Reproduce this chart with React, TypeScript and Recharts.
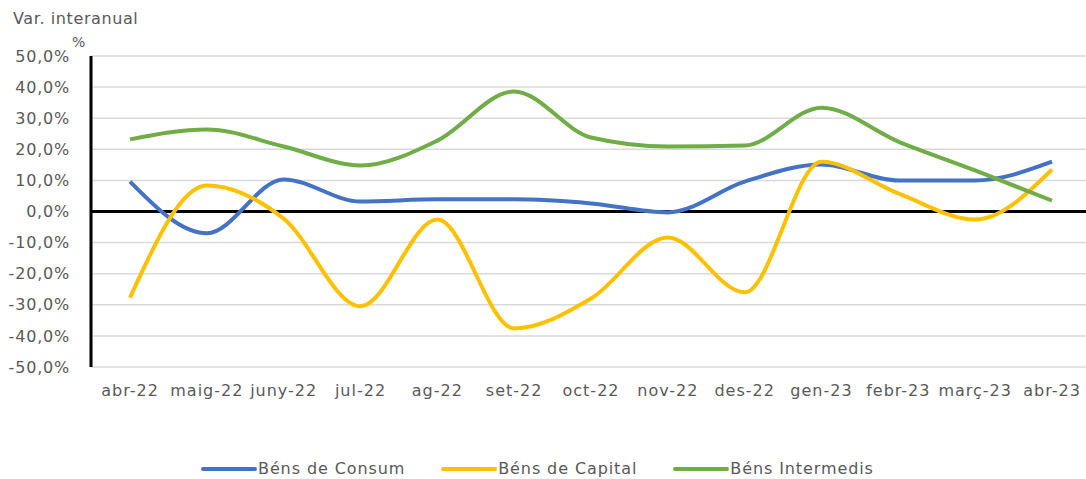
import { LineChart, Line, XAxis, YAxis, CartesianGrid, ReferenceLine, Legend } from "recharts";

const months = ["abr-22", "maig-22", "juny-22", "jul-22", "ag-22", "set-22", "oct-22", "nov-22", "des-22", "gen-23", "febr-23", "març-23", "abr-23"];
const consum = [9.6, -7, 10.3, 3.2, 3.9, 3.9, 2.6, -0.3, 9.6, 15.1, 10, 10, 16];
const capital = [-27.7, 8.4, -2.3, -30.5, -2.6, -37.6, -28, -8.4, -26, 16, 5.8, -2.6, 13.5];
const intermedis = [23.2, 26.4, 20.9, 14.8, 22.8, 38.6, 23.8, 20.9, 21.2, 33.4, 22.5, 13.2, 3.5];
const yTicks = [-50, -40, -30, -20, -10, 0, 10, 20, 30, 40, 50];

const series = [
  { key: "consum", name: "Béns de Consum", color: "#4472C4" },
  { key: "capital", name: "Béns de Capital", color: "#FFC000" },
  { key: "intermedis", name: "Béns Intermedis", color: "#70AD47" },
];

const data = months.map((m, i) => ({ month: m, consum: consum[i], capital: capital[i], intermedis: intermedis[i] }));

const font = "'DejaVu Sans', sans-serif";
const textColor = "#595959";

function LegendContent() {
  return (
    <div style={{ display: "flex", marginLeft: 201, marginTop: 10, fontFamily: font, fontSize: 16, color: textColor, lineHeight: "20px", letterSpacing: 0.9 }}>
      {series.map((s) => (
        <div key={s.key} style={{ display: "flex", alignItems: "center", marginRight: 36 }}>
          <svg width={56} height={8} style={{ marginRight: 1 }}>
            <line x1={2} y1={4} x2={54} y2={4} stroke={s.color} strokeWidth={4} strokeLinecap="round" />
          </svg>
          <span>{s.name}</span>
        </div>
      ))}
    </div>
  );
}

export default function App() {
  return (
    <div style={{ position: "absolute", left: 0, top: 0, width: 1086, height: 479, overflow: "hidden", background: "#fff" }}>
      <div style={{ position: "absolute", left: 13, top: 9, fontFamily: font, fontSize: 16, color: textColor, letterSpacing: 0.6 }}>Var. interanual</div>
      <div style={{ position: "absolute", left: 72, top: 34, fontFamily: font, fontSize: 14, color: textColor }}>%</div>
      <LineChart width={1090} height={479} data={data} margin={{ top: 56, right: 0, left: 0, bottom: 0 }}>
        <CartesianGrid vertical={false} stroke="#d9d9d9" strokeWidth={1.5} />
        <XAxis
          dataKey="month"
          axisLine={false}
          tickLine={false}
          height={82}
          tickMargin={12}
          interval={0}
          padding={{ left: 39, right: 38 }}
          tick={{ fontSize: 16, fill: textColor, fontFamily: font, letterSpacing: 1 }}
        />
        <YAxis
          domain={[-50, 50]}
          ticks={yTicks}
          width={91}
          tickLine={false}
          axisLine={{ stroke: "#000", strokeWidth: 3 }}
          tickMargin={15}
          tickFormatter={(v: number) => v.toFixed(1).replace(".", ",") + "%"}
          tick={{ fontSize: 16, fill: textColor, fontFamily: font, letterSpacing: 0.8 }}
        />
        <ReferenceLine y={0} stroke="#000" strokeWidth={3} />
        {series.map((s) => (
          <Line
            key={s.key}
            type="monotone"
            dataKey={s.key}
            name={s.name}
            stroke={s.color}
            strokeWidth={4}
            dot={false}
            isAnimationActive={false}
          />
        ))}
        <Legend verticalAlign="bottom" height={30} wrapperStyle={{ left: 0, width: 1090 }} content={<LegendContent />} />
      </LineChart>
    </div>
  );
}
